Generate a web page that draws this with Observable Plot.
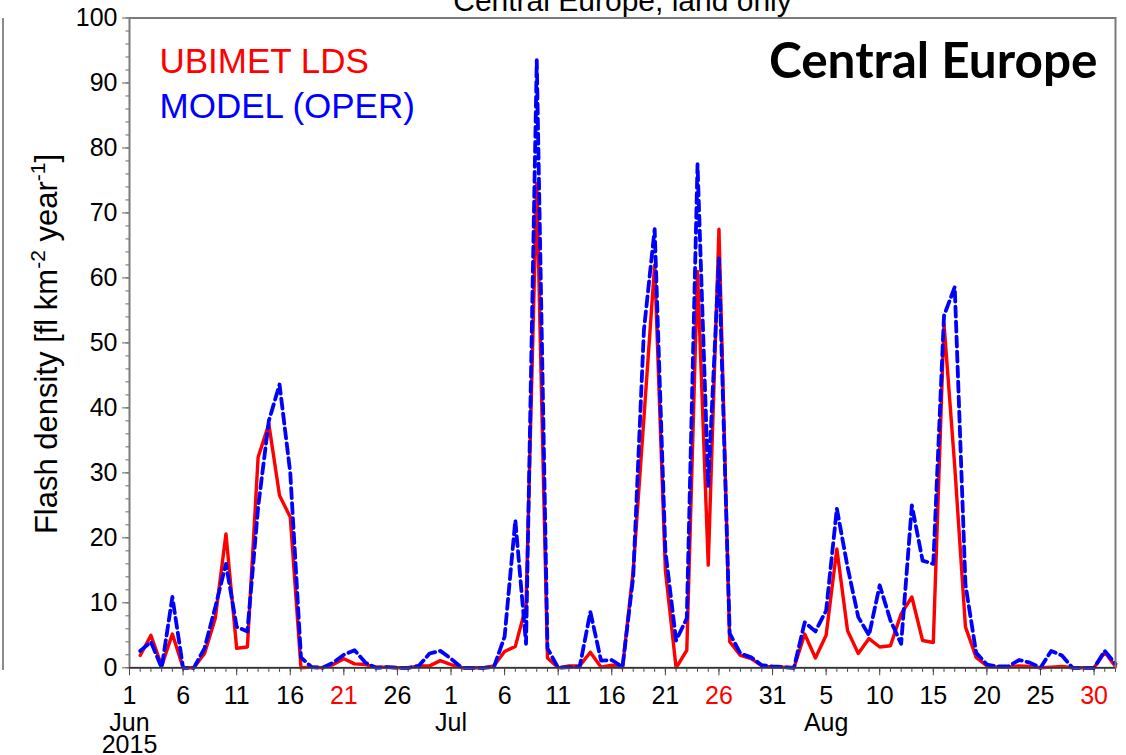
<!DOCTYPE html>
<html>
<head>
<meta charset="utf-8">
<script src="https://cdn.jsdelivr.net/npm/d3@7"></script>
<script src="https://cdn.jsdelivr.net/npm/@observablehq/plot@0.6"></script>
<style>
  html, body { margin: 0; padding: 0; background: #fff; }
  #chart { position: relative; width: 1126px; height: 755px; overflow: hidden; }
  #edge { position: absolute; left: 2px; top: 18px; width: 2px; height: 652px; background: #8a8a8a; }
</style>
</head>
<body>
<div id="chart"><div id="edge"></div></div>
<script>
// ---- data (daily values, first value is 2015-06-02) ----
const firstDay = "2015-06-02";
const ubimet = [
  1.9, 5.0, 0.3, 5.2, 0.0, 0.0, 2.2, 7.6, 20.6, 3.0,
  3.2, 32.4, 37.5, 26.5, 23.2, 0.0, 0.1, 0.0, 0.5, 1.4,
  0.6, 0.5, 0.1, 0.1, 0.0, 0.0, 0.3, 0.3, 1.1, 0.5,
  0.0, 0.0, 0.0, 0.3, 2.5, 3.3, 9.5, 74.5, 1.5, 0.0,
  0.3, 0.3, 2.4, 0.1, 0.4, 0.0, 15.0, 38.5, 62.0, 15.0,
  0.0, 2.7, 61.0, 15.8, 67.5, 4.0, 1.9, 1.4, 0.3, 0.1,
  0.1, 0.0, 5.2, 1.5, 5.0, 18.3, 5.7, 2.2, 4.5, 3.2,
  3.4, 8.3, 10.9, 4.2, 3.9, 52.9, 31.0, 6.3, 1.6, 0.3,
  0.1, 0.1, 0.3, 0.2, 0.0, 0.1, 0.2, 0.0, 0.0, 0.0,
  2.4, 0.2
];
const model = [
  2.6, 4.0, 0.0, 10.9, 0.0, 0.0, 3.0, 9.3, 16.0, 6.3,
  5.6, 24.7, 38.0, 43.6, 30.0, 1.6, 0.1, 0.0, 0.8, 2.0,
  2.7, 0.8, 0.0, 0.1, 0.0, 0.0, 0.3, 2.2, 2.6, 1.4,
  0.0, 0.0, 0.0, 0.1, 4.8, 22.7, 3.7, 93.5, 3.0, 0.0,
  0.1, 0.1, 8.6, 1.1, 1.2, 0.1, 14.0, 52.0, 67.5, 18.0,
  4.2, 7.6, 77.5, 28.0, 63.0, 5.3, 2.2, 1.6, 0.4, 0.2,
  0.1, 0.0, 7.0, 5.6, 8.8, 24.5, 15.5, 7.8, 5.0, 12.7,
  7.3, 3.7, 25.0, 16.5, 16.0, 54.2, 58.6, 12.8, 2.3, 0.5,
  0.2, 0.2, 1.2, 0.8, 0.0, 2.6, 1.9, 0.0, 0.0, 0.0,
  2.6, 0.6
];
const seriesNames = ["UBIMET LDS", "MODEL (OPER)"];
const seriesColors = ["#ff0000", "#0000ff"];

// ---- axis ticks and labels ----
const xDomain = ["2015-06-01", "2015-09-01"];
const yDomain = [0, 100];
const yMajorTicks = [0, 10, 20, 30, 40, 50, 60, 70, 80, 90, 100];
const yMinorTicks = [0, 2, 4, 6, 8, 10, 12, 14, 16, 18, 20, 22, 24, 26, 28, 30, 32, 34, 36, 38, 40,
  42, 44, 46, 48, 50, 52, 54, 56, 58, 60, 62, 64, 66, 68, 70, 72, 74, 76, 78, 80,
  82, 84, 86, 88, 90, 92, 94, 96, 98, 100];
const dayLabelDates = ["2015-06-01", "2015-06-06", "2015-06-11", "2015-06-16", "2015-06-21", "2015-06-26",
  "2015-07-01", "2015-07-06", "2015-07-11", "2015-07-16", "2015-07-21", "2015-07-26", "2015-07-31",
  "2015-08-05", "2015-08-10", "2015-08-15", "2015-08-20", "2015-08-25", "2015-08-30"];
const dayLabelTexts = ["1", "6", "11", "16", "21", "26", "1", "6", "11", "16", "21", "26", "31",
  "5", "10", "15", "20", "25", "30"];
const redLabelDates = ["2015-06-21", "2015-07-26", "2015-08-30"];
const monthLabelDates = ["2015-06-01", "2015-07-01", "2015-08-05"];
const monthLabelTexts = ["Jun", "Jul", "Aug"];
const yearLabelTexts = ["2015", "", ""];
const titleText = "Central Europe, land only";
const regionText = "Central Europe";

// ---- build tables ----
const parse = d3.utcParse("%Y-%m-%d");
const d0 = parse(firstDay);
const dates = ubimet.map((_, i) => d3.utcDay.offset(d0, i));
const rowsU = dates.map((d, i) => ({date: d, value: ubimet[i]}));
const rowsM = dates.map((d, i) => ({date: d, value: model[i]}));
const allDays = d3.utcDay.range(parse(xDomain[0]), d3.utcDay.offset(parse(xDomain[1]), 1));
const dayLabels = dayLabelDates.map((d, i) => ({date: parse(d), text: dayLabelTexts[i], red: redLabelDates.includes(d)}));
const monthLabels = monthLabelDates.map((d, i) => ({
  date: parse(d),
  text: yearLabelTexts[i] ? `${monthLabelTexts[i]}\n${yearLabelTexts[i]}` : monthLabelTexts[i]
}));

const FONT = "'Liberation Sans', Arial, Helvetica, sans-serif";

const chart = Plot.plot({
  width: 1126,
  height: 755,
  marginLeft: 129,
  marginRight: 11,
  marginTop: 17.5,
  marginBottom: 87.7,
  style: {fontFamily: FONT, fontSize: "25px", color: "#000", background: "#fff", overflow: "visible"},
  x: {type: "utc", domain: xDomain.map(parse), axis: null},
  y: {domain: yDomain, axis: null},
  marks: [
    // y axis: minor + major ticks
    Plot.axisY({ticks: yMinorTicks, tickSize: 3.5, tickFormat: () => "", stroke: "#666", label: null}),
    Plot.axisY({ticks: yMajorTicks, tickSize: 7, tickPadding: 5, stroke: "#666", fill: "#000", label: null, fontSize: 25}),
    // x axis: daily minor + labelled major ticks
    Plot.axisX({ticks: allDays, tickSize: 4.5, tickFormat: () => "", stroke: "#444", label: null}),
    Plot.axisX({ticks: dayLabels.map(d => d.date), tickSize: 8, tickFormat: () => "", stroke: "#444", label: null}),
    Plot.text(dayLabels.filter(d => !d.red), {x: "date", text: "text", frameAnchor: "bottom", lineAnchor: "bottom", dy: 36, fill: "#000", fontSize: 25}),
    Plot.text(dayLabels.filter(d => d.red), {x: "date", text: "text", frameAnchor: "bottom", lineAnchor: "bottom", dy: 36, fill: "#ff0000", fontSize: 25}),
    Plot.text(monthLabels, {x: "date", text: "text", frameAnchor: "bottom", lineAnchor: "top", dy: 47, lineHeight: 0.9, fill: "#000", fontSize: 25}),
    // data
    Plot.line(rowsU, {x: "date", y: "value", stroke: seriesColors[0], strokeWidth: 3.4}),
    Plot.line(rowsM, {x: "date", y: "value", stroke: seriesColors[1], strokeWidth: 3.8, strokeDasharray: "10,5"}),
    // frame
    Plot.frame({stroke: "#7a7a7a", strokeWidth: 2}),
    Plot.ruleY([0], {stroke: "#333", strokeWidth: 1.5}),
    // legend
    Plot.text([seriesNames[0]], {text: d => d, frameAnchor: "top-left", textAnchor: "start", lineAnchor: "top", dx: 30, dy: 30, fill: seriesColors[0], fontSize: 35}),
    Plot.text([seriesNames[1]], {text: d => d, frameAnchor: "top-left", textAnchor: "start", lineAnchor: "top", dx: 30, dy: 75, fill: seriesColors[1], fontSize: 35}),
    // region label
    Plot.text([regionText], {text: d => d, frameAnchor: "top-right", textAnchor: "end", lineAnchor: "top", dx: -18, dy: 25, fill: "#000", fontSize: 49.5, fontWeight: "bold", fontFamily: "Lato, 'Open Sans', sans-serif"}),
    // title (cut off at top, as in the source)
    Plot.text([titleText], {text: d => d, frameAnchor: "top", lineAnchor: "bottom", dy: -7.5, fill: "#000", fontSize: 30})
  ]
});

document.getElementById("chart").appendChild(chart);

// y-axis title with superscripts
const svg = d3.select(chart);
const yl = svg.append("text")
  .attr("transform", "translate(57,344) rotate(-90)")
  .attr("text-anchor", "middle")
  .attr("font-family", FONT)
  .attr("font-size", 31)
  .attr("fill", "#000");
yl.append("tspan").text("Flash density [fl km");
yl.append("tspan").attr("dy", -12).attr("font-size", 21).text("-2");
yl.append("tspan").attr("dy", 12).text(" year");
yl.append("tspan").attr("dy", -12).attr("font-size", 21).text("-1");
yl.append("tspan").attr("dy", 12).text("]");
</script>
</body>
</html>
